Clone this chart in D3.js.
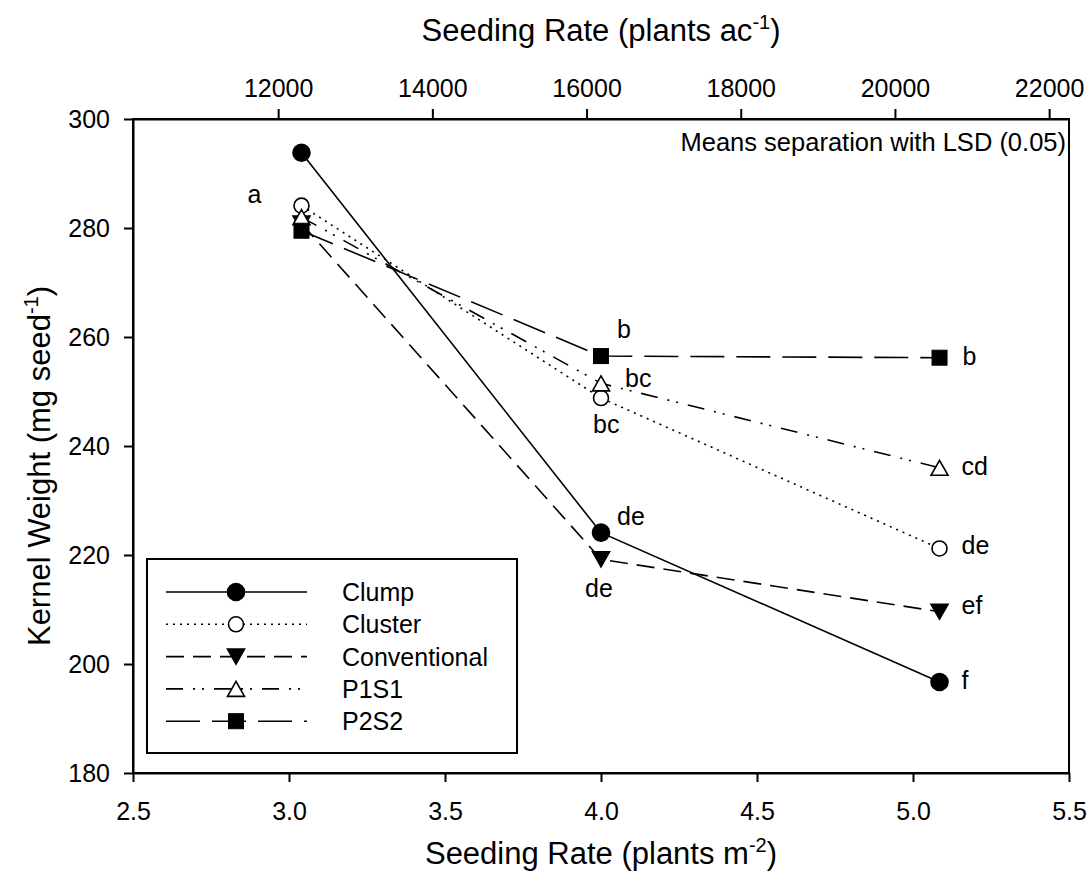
<!DOCTYPE html>
<html>
<head>
<meta charset="utf-8">
<script src="https://cdn.jsdelivr.net/npm/d3@7"></script>
<style>
  body { margin: 0; background: #fff; }
  svg { display: block; }
  text { font-family: "Liberation Sans", Arial, sans-serif; fill: #000; }
  .axis path, .axis line { stroke: #000; stroke-width: 2; }
  .axis text { font-size: 25px; }
</style>
</head>
<body>
<div id="chart"></div>
<script>
// seeding rate (plants m-2) and kernel weight means (mg seed-1)
var seedingRates = [3.04, 4.0, 5.085];
var seriesNames = ["Clump", "Cluster", "Conventional", "P1S1", "P2S2"];
var clump = [293.8, 224.1, 196.7];
var cluster = [284.1, 248.8, 221.2];
var conventional = [280.8, 219.2, 209.6];
var p1s1 = [282.0, 251.5, 236.0];
var p2s2 = [279.5, 256.5, 256.2];

// LSD letters for each point
var clumpLetters = ["", "de", "f"];
var clusterLetters = ["a", "bc", "de"];
var conventionalLetters = ["", "de", "ef"];
var p1s1Letters = ["", "bc", "cd"];
var p2s2Letters = ["", "b", "b"];

var xTicks = [2.5, 3.0, 3.5, 4.0, 4.5, 5.0, 5.5];
var yTicks = [180, 200, 220, 240, 260, 280, 300];
var topTicks = [12000, 14000, 16000, 18000, 20000, 22000];
var M2_TO_AC = 4046.86;

var width = 1088, height = 886;
var pad = { top: 119, left: 133, right: 19, bottom: 113 };

var svg = d3.select("#chart").append("svg")
  .attr("width", width)
  .attr("height", height);

var x = d3.scaleLinear().domain([2.5, 5.5]).range([pad.left, width - pad.right]);
var xTop = d3.scaleLinear().domain([2.5 * M2_TO_AC, 5.5 * M2_TO_AC]).range([pad.left, width - pad.right]);
var y = d3.scaleLinear().domain([180, 300]).range([height - pad.bottom, pad.top]);

// frame
svg.append("rect")
  .attr("x", pad.left).attr("y", pad.top)
  .attr("width", width - pad.left - pad.right)
  .attr("height", height - pad.top - pad.bottom)
  .attr("fill", "none").attr("stroke", "#000").attr("stroke-width", 2);

svg.append("g").attr("class", "axis")
  .attr("transform", "translate(0," + (height - pad.bottom) + ")")
  .call(d3.axisBottom(x).tickValues(xTicks).tickFormat(d3.format(".1f"))
    .tickSize(9).tickSizeOuter(0).tickPadding(20));

svg.append("g").attr("class", "axis")
  .attr("transform", "translate(0," + pad.top + ")")
  .call(d3.axisTop(xTop).tickValues(topTicks).tickFormat(d3.format("d"))
    .tickSize(10).tickSizeOuter(0).tickPadding(12));

svg.append("g").attr("class", "axis")
  .attr("transform", "translate(" + pad.left + ",0)")
  .call(d3.axisLeft(y).tickValues(yTicks).tickFormat(d3.format("d"))
    .tickSize(9).tickSizeOuter(0).tickPadding(14));

// axis titles with superscripts
function title(g, main, sup) {
  g.append("tspan").text(main);
  g.append("tspan").attr("dy", -12).attr("font-size", 20).text(sup);
  g.append("tspan").attr("dy", 12).text(")");
}

title(svg.append("text")
  .attr("x", 601).attr("y", 41)
  .attr("text-anchor", "middle").attr("font-size", 31),
  "Seeding Rate (plants ac", "-1");

title(svg.append("text")
  .attr("x", 601).attr("y", 864)
  .attr("text-anchor", "middle").attr("font-size", 31),
  "Seeding Rate (plants m", "-2");

title(svg.append("text")
  .attr("transform", "translate(50,466) rotate(-90)")
  .attr("text-anchor", "middle").attr("font-size", 31),
  "Kernel Weight (mg seed", "-1");

svg.append("text")
  .attr("x", 1066).attr("y", 151)
  .attr("text-anchor", "end").attr("font-size", 25.5)
  .text("Means separation with LSD (0.05)");

// styles per series
var styles = [
  { marker: "circle", fill: "#000", dash: null },
  { marker: "circle", fill: "#fff", dash: "2,5" },
  { marker: "triDown", fill: "#000", dash: "18,9" },
  { marker: "triUp", fill: "#fff", dash: "17,10,2,7,2,10" },
  { marker: "square", fill: "#000", dash: "34,12" }
];

// letter offsets from the point (dx, baseline dy)
var letterOffsets = [
  [null, [16, -8], [22, 7]],
  [[-54, -3], [-8, 35], [22, 6]],
  [null, [-16, 38], [22, 2]],
  [null, [24, 4], [22, 7]],
  [null, [16, -18], [23, 7]]
];

var seriesValues = [clump, cluster, conventional, p1s1, p2s2];
var seriesLetters = [clumpLetters, clusterLetters, conventionalLetters, p1s1Letters, p2s2Letters];

function drawMarker(g, type, fill, cx, cy) {
  if (type === "circle") {
    g.append("circle")
      .attr("cx", cx).attr("cy", cy)
      .attr("r", fill === "#000" ? 8.5 : 7.5)
      .attr("fill", fill).attr("stroke", "#000").attr("stroke-width", 1.6);
  } else if (type === "square") {
    g.append("rect")
      .attr("x", cx - 7.5).attr("y", cy - 7.5)
      .attr("width", 15).attr("height", 15)
      .attr("fill", fill).attr("stroke", "#000").attr("stroke-width", 1);
  } else {
    var w = 8.5, h = 7.5;
    var pts = type === "triUp" ?
      [[cx, cy - h], [cx + w, cy + h], [cx - w, cy + h]] :
      [[cx - w, cy - h], [cx + w, cy - h], [cx, cy + h]];
    g.append("path")
      .attr("d", "M" + pts.join("L") + "Z")
      .attr("fill", fill).attr("stroke", "#000").attr("stroke-width", 1.6);
  }
}

var line = d3.line()
  .x(function(d) { return x(d[0]); })
  .y(function(d) { return y(d[1]); });

seriesValues.forEach(function(vals, s) {
  var st = styles[s];
  var g = svg.append("g");
  var pts = vals.map(function(v, i) { return [seedingRates[i], v]; });
  g.append("path")
    .attr("d", line(pts))
    .attr("fill", "none").attr("stroke", "#000").attr("stroke-width", 1.6)
    .attr("stroke-dasharray", st.dash);
  pts.forEach(function(p) {
    drawMarker(g, st.marker, st.fill, x(p[0]), y(p[1]));
  });
  seriesLetters[s].forEach(function(letter, i) {
    if (!letter) return;
    var off = letterOffsets[s][i];
    g.append("text")
      .attr("x", x(pts[i][0]) + off[0])
      .attr("y", y(pts[i][1]) + off[1])
      .attr("font-size", 25)
      .text(letter);
  });
});

// legend
var legend = svg.append("g");
legend.append("rect")
  .attr("x", 147).attr("y", 559).attr("width", 370).attr("height", 194)
  .attr("fill", "#fff").attr("stroke", "#000").attr("stroke-width", 2);

seriesNames.forEach(function(name, s) {
  var st = styles[s];
  var cy = 592 + s * 32.3;
  legend.append("line")
    .attr("x1", 166).attr("x2", 307).attr("y1", cy).attr("y2", cy)
    .attr("stroke", "#000").attr("stroke-width", 1.6)
    .attr("stroke-dasharray", st.dash);
  drawMarker(legend, st.marker, st.fill, 236, cy);
  legend.append("text")
    .attr("x", 342).attr("y", cy + 9)
    .attr("font-size", 25)
    .text(name);
});
</script>
</body>
</html>
